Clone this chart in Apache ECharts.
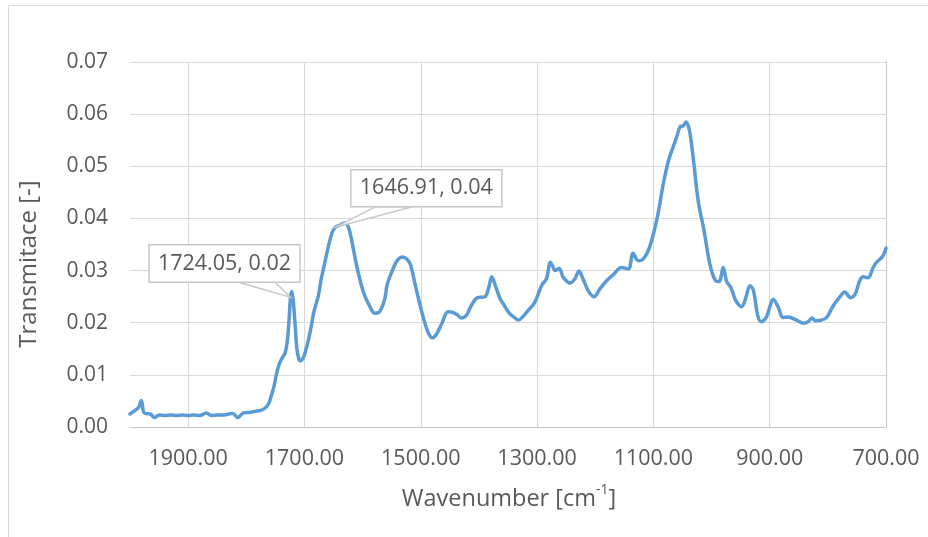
<!DOCTYPE html>
<html>
<head>
<meta charset="utf-8">
<script src="https://cdn.jsdelivr.net/npm/echarts@6/dist/echarts.min.js"></script>
<style>
  html, body { margin: 0; padding: 0; background: #fff; }
  #chart { width: 928px; height: 537px; }
</style>
</head>
<body>
<div id="chart"></div>
<script>
// FTIR spectrum: wavenumber (cm-1) vs transmittance
const wavenumber = [
  2000, 1990, 1985, 1980.5, 1977, 1974, 1965, 1958, 1950, 1940, 1930, 1920, 1910, 1900, 1890, 1880,
  1869, 1860, 1850, 1840, 1830, 1823, 1815, 1805, 1795, 1785, 1775, 1768, 1762, 1757, 1752, 1748,
  1743, 1738, 1733, 1729, 1726, 1724.05, 1722, 1719.5, 1716, 1713, 1710, 1707, 1702, 1697, 1693, 1688,
  1684, 1679, 1676, 1671, 1667, 1659, 1652, 1646.91, 1639, 1631, 1625, 1619, 1610, 1599, 1588, 1579,
  1571, 1562, 1558, 1550, 1540, 1531, 1524, 1518, 1510, 1499, 1488, 1480, 1473, 1464, 1453, 1445,
  1437, 1430, 1421, 1415, 1404, 1395, 1389, 1383, 1378, 1372, 1364, 1358, 1349, 1340, 1332, 1325,
  1318, 1304, 1292, 1284, 1277, 1273, 1269, 1262, 1255, 1243, 1235, 1228, 1221, 1212, 1202, 1192,
  1180, 1169, 1155, 1143, 1135, 1126, 1120, 1109, 1100, 1092, 1083, 1074, 1066, 1060, 1054, 1050,
  1047, 1044, 1038, 1031, 1023, 1013, 1003, 994, 987, 980, 974, 967, 958, 948, 941, 934,
  928, 921, 915, 906, 901, 894, 885, 877, 868, 854, 842, 834, 827, 822, 811, 802,
  791, 779, 771, 761, 753, 745, 739, 731, 722, 716, 706, 700
];
const transmittance = [
  0.0025, 0.0033, 0.0038, 0.0051, 0.0030, 0.0026, 0.0025, 0.0018, 0.0023, 0.0022, 0.0023, 0.0022, 0.0023, 0.0022, 0.0023, 0.0022,
  0.0027, 0.0022, 0.0023, 0.0023, 0.0025, 0.0026, 0.0018, 0.0027, 0.0028, 0.0030, 0.0032, 0.0036, 0.0044, 0.0060, 0.0080, 0.0102,
  0.0122, 0.0133, 0.0143, 0.0170, 0.0215, 0.0249, 0.0260, 0.0245, 0.0195, 0.0150, 0.0132, 0.0127, 0.0133, 0.0150, 0.0168, 0.0195,
  0.0220, 0.0240, 0.0252, 0.0285, 0.0305, 0.0346, 0.0374, 0.0383, 0.0387, 0.0391, 0.0385, 0.0359, 0.0308, 0.0260, 0.0232, 0.0218,
  0.0221, 0.0245, 0.0272, 0.0297, 0.0320, 0.0326, 0.0322, 0.0312, 0.0275, 0.0224, 0.0183, 0.0171, 0.0178, 0.0198, 0.0221, 0.0220,
  0.0215, 0.0209, 0.0215, 0.0229, 0.0247, 0.0249, 0.0250, 0.0268, 0.0288, 0.0272, 0.0247, 0.0236, 0.0220, 0.0211, 0.0205, 0.0211,
  0.0220, 0.0239, 0.0272, 0.0284, 0.0316, 0.0308, 0.0300, 0.0304, 0.0287, 0.0276, 0.0284, 0.0299, 0.0284, 0.0261, 0.0250, 0.0265,
  0.0281, 0.0292, 0.0306, 0.0303, 0.0333, 0.0319, 0.0320, 0.0338, 0.0370, 0.0409, 0.0466, 0.0511, 0.0537, 0.0556, 0.0576, 0.0577,
  0.0580, 0.0585, 0.0569, 0.0511, 0.0434, 0.0377, 0.0313, 0.0282, 0.0279, 0.0306, 0.0279, 0.0268, 0.0242, 0.0231, 0.0248, 0.0271,
  0.0262, 0.0216, 0.0202, 0.0210, 0.0226, 0.0245, 0.0229, 0.0210, 0.0211, 0.0205, 0.0199, 0.0202, 0.0209, 0.0204, 0.0205, 0.0210,
  0.0232, 0.0250, 0.0259, 0.0248, 0.0255, 0.0281, 0.0288, 0.0286, 0.0306, 0.0316, 0.0327, 0.0343
];

// Axis ticks
const xTicks = [1900, 1700, 1500, 1300, 1100, 900, 700];
const yTicks = [0, 0.01, 0.02, 0.03, 0.04, 0.05, 0.06, 0.07];

// Annotated points
const calloutX = [1724.05, 1646.91];

const FONT = '"Open Sans", sans-serif';
const TXT = '#595959';
const GRID = '#d9d9d9';
const EDGE = '#c8c8c8';

const points = wavenumber.map((w, i) => [w, transmittance[i]]);

const chart = echarts.init(document.getElementById('chart'), null, { renderer: 'canvas' });

chart.setOption({
  backgroundColor: '#fff',
  animation: false,
  textStyle: { fontFamily: FONT },
  grid: { left: 130, right: 42, top: 62, bottom: 110, containLabel: false },
  xAxis: {
    type: 'value',
    inverse: true,
    min: 700,
    max: 2000,
    interval: 200,
    axisLine: { show: true, lineStyle: { color: EDGE, width: 1 } },
    axisTick: { show: false },
    splitLine: { show: true, showMaxLine: false, lineStyle: { color: GRID, width: 1 } },
    axisLabel: {
      margin: 21,
      color: TXT,
      fontFamily: FONT,
      fontSize: 21.5,
      showMaxLabel: false,
      formatter: v => (xTicks.indexOf(v) >= 0 ? v.toFixed(2) : '')
    }
  },
  yAxis: [{
    type: 'value',
    min: yTicks[0],
    max: yTicks[yTicks.length - 1],
    interval: 0.01,
    axisLine: { show: false },
    axisTick: { show: false },
    splitLine: { show: true, lineStyle: { color: GRID, width: 1 } },
    axisLabel: {
      margin: 22,
      color: TXT,
      fontFamily: FONT,
      fontSize: 21,
      formatter: v => v.toFixed(2)
    }
  }, {
    type: 'value',
    position: 'right',
    min: yTicks[0],
    max: yTicks[yTicks.length - 1],
    interval: 0.01,
    axisLine: { show: true, lineStyle: { color: EDGE, width: 1 } },
    axisTick: { show: false },
    axisLabel: { show: false },
    splitLine: { show: false }
  }],
  series: [{
    type: 'line',
    data: points,
    yAxisIndex: 0,
    showSymbol: false,
    smooth: 0.35,
    lineStyle: { color: '#5B9BD5', width: 3.5, cap: 'round', join: 'round' },
    z: 3
  }]
});

// Callout boxes with a pointer wedge, placed relative to the annotated point
function callout(px, py, box, wedge, text) {
  const [l, r, t, b] = box;
  const [w0, w1] = wedge;
  return [
    {
      type: 'polygon',
      z: 10,
      shape: { points: [[px + w0, py + b], [px, py], [px + w1, py + b]] },
      style: { fill: '#fff', stroke: EDGE, lineWidth: 1.5 }
    },
    {
      type: 'rect',
      z: 11,
      shape: { x: px + l, y: py + t, width: r - l, height: b - t },
      style: { fill: '#fff', stroke: EDGE, lineWidth: 1.5 }
    },
    {
      type: 'text',
      z: 12,
      x: px + (l + r) / 2,
      y: py + (t + b) / 2,
      style: {
        text: text,
        fill: TXT,
        font: '21.5px ' + FONT,
        align: 'center',
        verticalAlign: 'middle'
      }
    }
  ];
}

const labelTexts = calloutX.map(x => {
  const i = wavenumber.indexOf(x);
  return x.toFixed(2) + ', ' + transmittance[i].toFixed(2);
});
const p1 = chart.convertToPixel({ gridIndex: 0 }, [calloutX[0], transmittance[wavenumber.indexOf(calloutX[0])]]);
const p2 = chart.convertToPixel({ gridIndex: 0 }, [calloutX[1], transmittance[wavenumber.indexOf(calloutX[1])]]);

chart.setOption({
  graphic: [
    // chart frame
    {
      type: 'rect', z: 0, silent: true,
      shape: { x: 8.5, y: 5.5, width: 1000, height: 600 },
      style: { fill: 'none', stroke: GRID, lineWidth: 1 }
    },
    // axis titles
    {
      type: 'text', z: 5,
      x: 29, y: 264, rotation: Math.PI / 2,
      style: {
        text: 'Transmitace [-]', fill: TXT, font: '24px ' + FONT,
        align: 'center', verticalAlign: 'middle'
      }
    },
    {
      type: 'text', z: 5,
      x: 509, y: 497,
      style: {
        text: '{a|Wavenumber [cm}{s|-1}{a|]}',
        align: 'center', verticalAlign: 'middle',
        rich: {
          a: { fontFamily: FONT, fontSize: 23.5, fill: TXT, color: TXT, verticalAlign: 'bottom', lineHeight: 28 },
          s: { fontFamily: FONT, fontSize: 14, fill: TXT, color: TXT, verticalAlign: 'top', lineHeight: 28 }
        }
      }
    },
    ...callout(p1[0], p1[1], [-141.5, 9.5, -52.5, -15], [-52, -15.5], labelTexts[0]),
    ...callout(p2[0], p2[1], [15.5, 166.5, -57.5, -20.5], [40, 77], labelTexts[1])
  ]
});
</script>
</body>
</html>
